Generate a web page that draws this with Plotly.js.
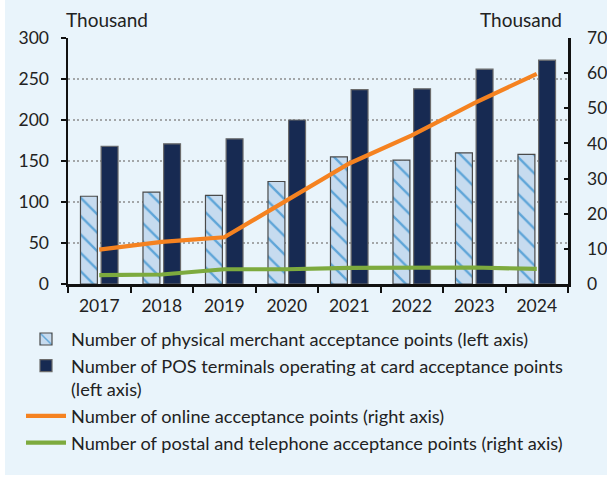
<!DOCTYPE html>
<html>
<head>
<meta charset="utf-8">
<script src="https://cdn.plot.ly/plotly-3.0.1.min.js"></script>
<style>
  html, body { margin: 0; padding: 0; background: #ffffff; }
  #chart { position: absolute; left: 5px; top: 0px; width: 602px; height: 475px; }
</style>
</head>
<body>
<div id="chart"></div>
<script>
// Data (thousands)
const years = ['2017', '2018', '2019', '2020', '2021', '2022', '2023', '2024'];
const physicalPoints = [107, 112, 108, 125, 155, 151, 160, 158];      // left axis
const posTerminals = [168, 171, 177, 200, 237, 238, 262, 273];        // left axis
const onlinePoints = [9.8, 12.0, 13.3, 23.7, 34.3, 42.3, 51.5, 59.8]; // right axis
const postalPoints = [2.5, 2.7, 4.2, 4.2, 4.6, 4.7, 4.7, 4.3];        // right axis

const seriesNames = [
  'Number of physical merchant acceptance points (left axis)',
  'Number of POS terminals operating at card acceptance points<br>(left axis)',
  'Number of online acceptance points (right axis)',
  'Number of postal and telephone acceptance points (right axis)'
];
const leftTicks = [0, 50, 100, 150, 200, 250, 300];
const rightTicks = [0, 10, 20, 30, 40, 50, 60, 70];
const unitLabel = 'Thousand';

const FONT = 'Lato, "Open Sans", sans-serif';
const TXT = '#222222';

const traces = [
  {
    type: 'bar', x: years, y: physicalPoints, name: seriesNames[0],
    yaxis: 'y', offsetgroup: 'a',
    marker: {
      color: '#C6DBEF',
      line: { color: '#4a4a4a', width: 1.2 },
      pattern: { shape: '\\', fgcolor: '#5EA5D8', bgcolor: '#C6DBEF', size: 13, solidity: 0.18 }
    },
    hoverinfo: 'skip'
  },
  {
    type: 'bar', x: years, y: posTerminals, name: seriesNames[1],
    yaxis: 'y', offsetgroup: 'b',
    marker: { color: '#172A52', line: { color: '#6b6b6b', width: 1.2 } },
    hoverinfo: 'skip'
  },
  {
    type: 'scatter', mode: 'lines', x: years, y: onlinePoints, name: seriesNames[2],
    yaxis: 'y2', line: { color: '#F58220', width: 4.2 },
    hoverinfo: 'skip'
  },
  {
    type: 'scatter', mode: 'lines', x: years, y: postalPoints, name: seriesNames[3],
    yaxis: 'y2', line: { color: '#7DAA3E', width: 4.2 },
    hoverinfo: 'skip'
  }
];

const layout = {
  width: 602, height: 475,
  paper_bgcolor: '#E9F4FB',
  plot_bgcolor: 'rgba(0,0,0,0)',
  margin: { l: 62.5, r: 38.7, t: 37.7, b: 191, pad: 0 },
  font: { family: FONT, size: 17.5, color: TXT },
  barmode: 'group',
  bargap: 0.34,
  bargroupgap: 0.18,
  showlegend: true,
  legend: {
    x: -0.094, xanchor: 'left',
    y: -0.149, yanchor: 'top',
    bgcolor: 'rgba(0,0,0,0)',
    font: { family: FONT, size: 18.2, color: TXT },
    itemwidth: 40,
    tracegroupgap: 0,
    valign: 'top',
    traceorder: 'normal'
  },
  xaxis: {
    type: 'category',
    showgrid: false,
    showline: true, linecolor: '#111111', linewidth: 2.5,
    ticks: 'outside', ticklen: 6, tickwidth: 2, tickcolor: '#111111',
    tickson: 'boundaries',
    tickfont: { family: FONT, size: 17.5, color: TXT },
    ticklabelstandoff: 4,
    zeroline: false,
    fixedrange: true
  },
  yaxis: {
    range: [0, 300],
    tickvals: leftTicks,
    ticktext: leftTicks.map(String),
    showgrid: true, gridcolor: '#A3A6A8', gridwidth: 1.5, griddash: '2px,2.6px',
    showline: true, linecolor: '#111111', linewidth: 2.5,
    ticks: 'outside', ticklen: 5, tickwidth: 2, tickcolor: '#111111',
    tickfont: { family: FONT, size: 17.5, color: TXT },
    ticklabelstandoff: 8,
    zeroline: false,
    fixedrange: true
  },
  yaxis2: {
    range: [0, 70],
    tickvals: rightTicks,
    ticktext: rightTicks.map(String),
    overlaying: 'y', side: 'right',
    showgrid: false,
    showline: true, linecolor: '#111111', linewidth: 2.5,
    ticks: 'inside', ticklen: 4, tickwidth: 2, tickcolor: '#111111',
    tickfont: { family: FONT, size: 17.5, color: TXT },
    ticklabelstandoff: 13,
    zeroline: false,
    fixedrange: true
  },
  annotations: [
    {
      xref: 'paper', yref: 'paper', x: 0, y: 1, xanchor: 'left', yanchor: 'bottom',
      yshift: 5, xshift: -4,
      text: unitLabel, showarrow: false,
      font: { family: FONT, size: 19, color: TXT }
    },
    {
      xref: 'paper', yref: 'paper', x: 1, y: 1, xanchor: 'right', yanchor: 'bottom',
      yshift: 5, xshift: -4,
      text: unitLabel, showarrow: false,
      font: { family: FONT, size: 19, color: TXT }
    }
  ]
};

Plotly.newPlot('chart', traces, layout, { displayModeBar: false, staticPlot: true });
</script>
</body>
</html>
